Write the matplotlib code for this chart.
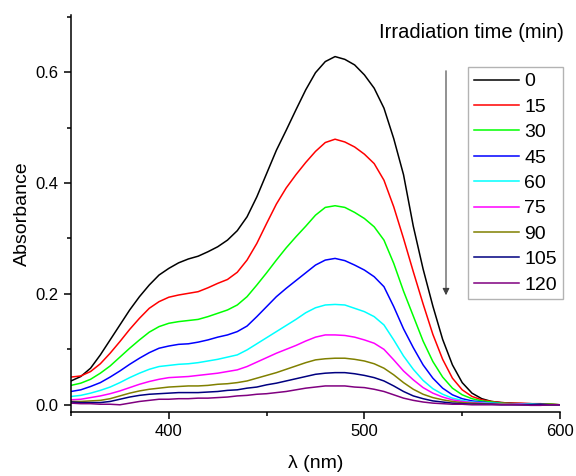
import matplotlib
matplotlib.use("Agg")
from matplotlib import pyplot as plt
from matplotlib.ticker import MultipleLocator

plt.rcParams['font.family'] = ['Liberation Sans', 'DejaVu Sans']

# wavelength (nm), 350..600 every 5 nm
wl = list(range(350, 605, 5))

# absorbance for each irradiation time (min)
a0 = [0.043, 0.051, 0.066, 0.090, 0.117, 0.144, 0.171, 0.195, 0.216, 0.234,
      0.246, 0.256, 0.263, 0.268, 0.276, 0.285, 0.297, 0.314, 0.339, 0.375,
      0.417, 0.459, 0.495, 0.532, 0.568, 0.599, 0.619, 0.628, 0.623, 0.613,
      0.595, 0.571, 0.535, 0.480, 0.415, 0.322, 0.245, 0.178, 0.118, 0.072,
      0.040, 0.021, 0.011, 0.006, 0.004, 0.003, 0.002, 0.002, 0.001, 0.001,
      0.000]
a15 = [0.050, 0.052, 0.060, 0.074, 0.093, 0.114, 0.136, 0.156, 0.174, 0.186,
       0.194, 0.198, 0.201, 0.204, 0.211, 0.219, 0.226, 0.239, 0.261, 0.291,
       0.327, 0.362, 0.391, 0.415, 0.437, 0.457, 0.473, 0.479, 0.474, 0.465,
       0.452, 0.435, 0.405, 0.357, 0.300, 0.240, 0.182, 0.127, 0.082, 0.048,
       0.027, 0.015, 0.009, 0.006, 0.004, 0.003, 0.003, 0.002, 0.002, 0.001,
       0.000]
a30 = [0.035, 0.039, 0.046, 0.057, 0.070, 0.086, 0.102, 0.117, 0.131, 0.141,
       0.147, 0.150, 0.152, 0.154, 0.159, 0.165, 0.171, 0.180, 0.195, 0.216,
       0.238, 0.261, 0.283, 0.303, 0.322, 0.342, 0.356, 0.359, 0.356, 0.347,
       0.336, 0.321, 0.297, 0.255, 0.205, 0.160, 0.115, 0.078, 0.050, 0.030,
       0.018, 0.011, 0.007, 0.005, 0.003, 0.002, 0.002, 0.001, 0.001, 0.001,
       0.000]
a45 = [0.024, 0.027, 0.033, 0.040, 0.050, 0.061, 0.073, 0.084, 0.094, 0.102,
       0.106, 0.109, 0.110, 0.113, 0.117, 0.122, 0.126, 0.132, 0.142, 0.159,
       0.177, 0.195, 0.210, 0.224, 0.238, 0.252, 0.261, 0.264, 0.260, 0.252,
       0.243, 0.231, 0.213, 0.177, 0.137, 0.103, 0.072, 0.048, 0.030, 0.018,
       0.011, 0.007, 0.005, 0.003, 0.002, 0.002, 0.001, 0.001, 0.001, 0.000,
       0.000]
a60 = [0.015, 0.017, 0.021, 0.026, 0.032, 0.040, 0.049, 0.057, 0.064, 0.069,
       0.071, 0.073, 0.074, 0.076, 0.079, 0.082, 0.086, 0.090, 0.099, 0.110,
       0.121, 0.132, 0.143, 0.154, 0.166, 0.175, 0.180, 0.181, 0.180, 0.174,
       0.168, 0.159, 0.144, 0.117, 0.088, 0.064, 0.044, 0.029, 0.019, 0.012,
       0.008, 0.005, 0.004, 0.003, 0.002, 0.001, 0.001, 0.001, 0.000, 0.000,
       0.000]
a75 = [0.009, 0.010, 0.013, 0.016, 0.020, 0.025, 0.031, 0.037, 0.042, 0.046,
       0.049, 0.050, 0.051, 0.053, 0.055, 0.057, 0.060, 0.063, 0.069, 0.077,
       0.085, 0.093, 0.100, 0.107, 0.115, 0.122, 0.126, 0.126, 0.125, 0.122,
       0.117, 0.111, 0.100, 0.081, 0.061, 0.045, 0.031, 0.021, 0.014, 0.009,
       0.006, 0.004, 0.003, 0.002, 0.001, 0.001, 0.001, 0.000, 0.000, 0.000,
       0.000]
a90 = [0.006, 0.006, 0.007, 0.008, 0.011, 0.016, 0.021, 0.025, 0.028, 0.030,
       0.032, 0.033, 0.034, 0.034, 0.035, 0.037, 0.038, 0.040, 0.043, 0.048,
       0.053, 0.058, 0.064, 0.070, 0.076, 0.081, 0.083, 0.084, 0.084, 0.082,
       0.079, 0.074, 0.066, 0.054, 0.040, 0.028, 0.019, 0.013, 0.009, 0.006,
       0.004, 0.003, 0.002, 0.001, 0.001, 0.001, 0.000, 0.000, 0.000, 0.000,
       0.000]
a105 = [0.005, 0.004, 0.004, 0.004, 0.006, 0.010, 0.014, 0.017, 0.019, 0.020,
        0.021, 0.022, 0.022, 0.022, 0.023, 0.024, 0.026, 0.027, 0.030, 0.032,
        0.036, 0.039, 0.043, 0.047, 0.051, 0.055, 0.057, 0.058, 0.058, 0.056,
        0.053, 0.049, 0.043, 0.034, 0.024, 0.016, 0.011, 0.007, 0.005, 0.003,
        0.002, 0.001, 0.001, 0.001, 0.000, 0.000, 0.000, 0.000, 0.000, 0.000,
        0.000]
a120 = [0.003, 0.002, 0.002, 0.001, 0.001, 0.000, 0.003, 0.006, 0.008, 0.010,
        0.010, 0.011, 0.011, 0.012, 0.012, 0.013, 0.014, 0.016, 0.017, 0.019,
        0.020, 0.022, 0.024, 0.027, 0.030, 0.032, 0.034, 0.034, 0.034, 0.032,
        0.031, 0.028, 0.024, 0.018, 0.012, 0.008, 0.005, 0.003, 0.002, 0.001,
        0.001, 0.000, 0.000, 0.000, 0.000, 0.000, 0.000, -0.001, -0.001, 0.000,
        0.000]

times = ["0", "15", "30", "45", "60", "75", "90", "105", "120"]
spectra = [a0, a15, a30, a45, a60, a75, a90, a105, a120]
colors = ["#000000", "#FF0000", "#00FF00", "#0000FF", "#00FFFF", "#FF00FF", "#808000", "#000080", "#800080"]

fig = plt.figure(figsize=(5.76, 4.76), dpi=100)
ax = fig.add_axes([71/576, 1 - 412/476, (560 - 71)/576, (412 - 15)/476])

for t, a, c in zip(times, spectra, colors):
    ax.plot(wl, a, color=c, lw=1.1, label=t)

ax.set_xlim(350, 600)
ax.set_ylim(-0.013, 0.703)
ax.xaxis.set_major_locator(MultipleLocator(100))
ax.xaxis.set_minor_locator(MultipleLocator(50))
ax.yaxis.set_major_locator(MultipleLocator(0.2))
ax.yaxis.set_minor_locator(MultipleLocator(0.1))
ax.yaxis.set_major_formatter(lambda v, p: f"{v:.1f}")

for s in ["top", "right"]:
    ax.spines[s].set_visible(False)
for s in ["left", "bottom"]:
    ax.spines[s].set_linewidth(1.1)

ax.tick_params(which="major", direction="out", length=5, width=1.1, labelsize=12, pad=4)
ax.tick_params(which="minor", direction="out", length=3, width=1.1)

ax.set_xlabel("λ (nm)", fontsize=14, labelpad=11.5)
ax.set_ylabel("Absorbance", fontsize=14, labelpad=3)

fig.text(471/576, 1 - 33/476, "Irradiation time (min)", fontsize=14.5, ha="center", va="center")

ax.annotate("", xy=(446/576, 1 - 298/476), xytext=(446/576, 1 - 68/476),
            xycoords="figure fraction", textcoords="figure fraction",
            arrowprops=dict(arrowstyle="-|>", color="#404040", lw=0.8, mutation_scale=10))

leg = ax.legend(loc="upper left", bbox_to_anchor=(468/576, 1 - 67/476), bbox_transform=fig.transFigure,
                fontsize=14, frameon=True, fancybox=False, borderaxespad=0, borderpad=0.3,
                labelspacing=0.4, handlelength=2.3, handletextpad=0.3)
leg.get_frame().set_edgecolor("#A0A0A0")
leg.get_frame().set_linewidth(1.0)

fig.savefig("out.png", dpi=100)
